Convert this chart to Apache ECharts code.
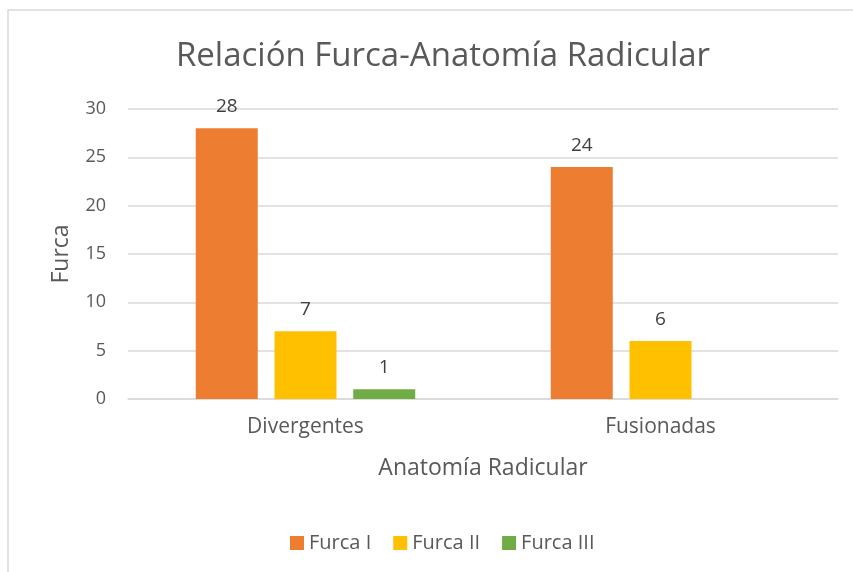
<!DOCTYPE html>
<html><head><meta charset="utf-8">
<script src="https://cdn.jsdelivr.net/npm/echarts@6/dist/echarts.min.js"></script>
<style>html,body{margin:0;padding:0;background:#fff}#c{width:853px;height:572px}</style>
</head><body><div id="c"></div>
<script>
const categories = ['Divergentes', 'Fusionadas'];
const seriesNames = ['Furca I', 'Furca II', 'Furca III'];
const furcaI = [28, 24];
const furcaII = [7, 6];
const furcaIII = [1, null];
const yTicks = [0, 5, 10, 15, 20, 25, 30];
const colors = ['#ED7D31', '#FFC000', '#70AD47'];

const FONT = 'Open Sans';
const chart = echarts.init(document.getElementById('c'));
const mk = (name, data, color) => ({
  name, type: 'bar', data, barWidth: 62, barGap: '27%',
  itemStyle: { color },
  label: { show: true, position: 'top', distance: 12, color: '#404040', fontFamily: FONT, fontSize: 19 }
});
chart.setOption({
  animation: false,
  textStyle: { fontFamily: FONT },
  graphic: [{ type: 'rect', shape: { x: 8, y: 10, width: 900, height: 600 }, style: { fill: 'none', stroke: '#d9d9d9', lineWidth: 1.5 }, silent: true }],
  title: { text: 'Relación Furca-Anatomía Radicular', left: 438, top: 35, textAlign: 'center',
    textStyle: { color: '#595959', fontFamily: FONT, fontSize: 33, fontWeight: 'normal' } },
  legend: { data: seriesNames, left: 285, top: 528, itemWidth: 14, itemHeight: 14, itemGap: 22,
    icon: 'rect', textStyle: { color: '#595959', fontFamily: FONT, fontSize: 20 } },
  grid: { left: 128, right: 15, top: 109, bottom: 173 },
  xAxis: { type: 'category', data: categories, name: 'Anatomía Radicular', nameLocation: 'middle', nameGap: 58,
    nameTextStyle: { color: '#595959', fontFamily: FONT, fontSize: 23 },
    axisLine: { lineStyle: { color: '#d9d9d9', width: 1.5 } }, axisTick: { show: false },
    axisLabel: { color: '#595959', fontFamily: FONT, fontSize: 21, margin: 18 } },
  yAxis: { type: 'value', min: yTicks[0], max: yTicks[yTicks.length - 1], interval: 5,
    name: 'Furca', nameLocation: 'middle', nameGap: 55,
    nameTextStyle: { color: '#595959', fontFamily: FONT, fontSize: 23 },
    axisLine: { show: false }, axisTick: { show: false },
    axisLabel: { color: '#595959', fontFamily: FONT, fontSize: 18, margin: 22 },
    splitLine: { lineStyle: { color: '#d9d9d9', width: 1.5 } } },
  series: [mk(seriesNames[0], furcaI, colors[0]), mk(seriesNames[1], furcaII, colors[1]), mk(seriesNames[2], furcaIII, colors[2])]
});
</script></body></html>
